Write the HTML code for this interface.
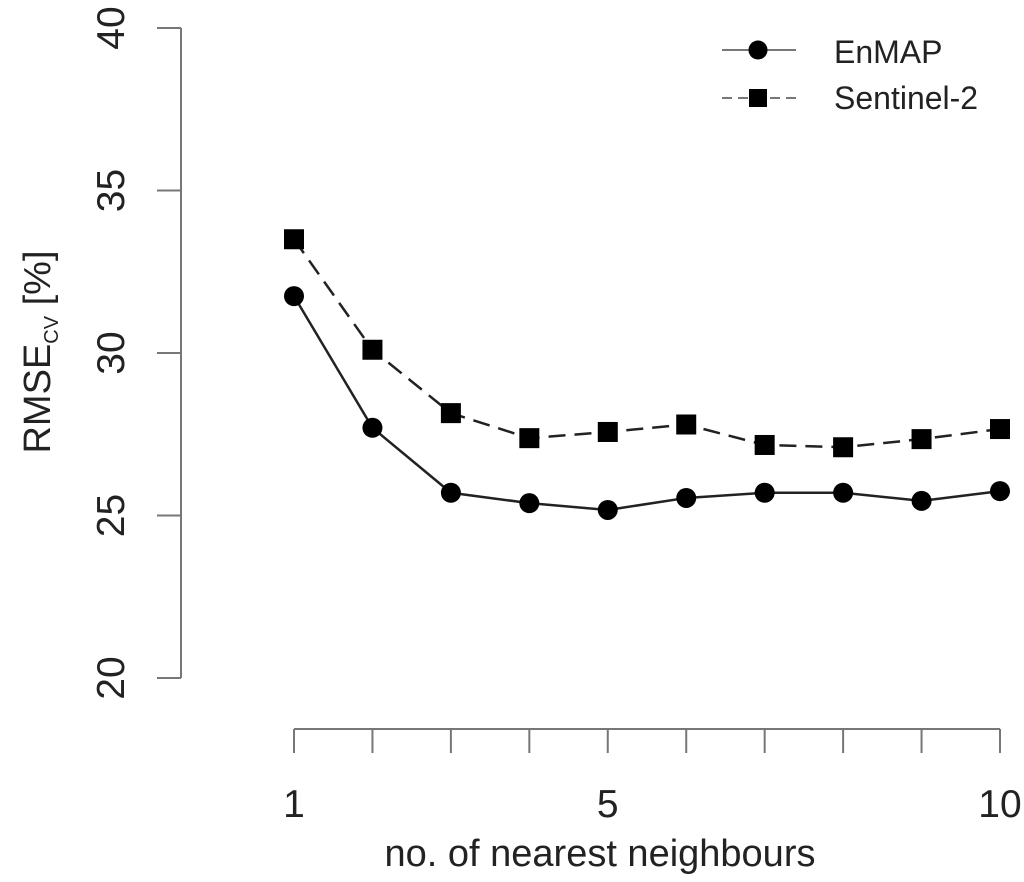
<!DOCTYPE html>
<html><head><meta charset="utf-8"><style>
html,body{margin:0;padding:0;background:#fff;}
svg{display:block;font-family:"Liberation Sans",Arial,sans-serif;}
</style></head><body>
<svg id="chart" width="1024" height="882" viewBox="0 0 1024 882" xmlns="http://www.w3.org/2000/svg">
<g id="axes"></g>
<g id="series"></g>
<g id="legend">
  <line x1="722" y1="50" x2="796" y2="50" stroke="#777" stroke-width="2"/>
  <circle cx="758" cy="50" r="9.5" fill="#000"/>
  <text x="834" y="63" font-size="32" fill="#222">EnMAP</text>
  <line x1="722" y1="98" x2="796" y2="98" stroke="#777" stroke-width="2" stroke-dasharray="10,6"/>
  <rect x="749" y="89" width="18" height="18" fill="#000"/>
  <text x="834" y="109" font-size="32" fill="#222">Sentinel-2</text>
</g>
<text x="600" y="866" font-size="38" fill="#222" text-anchor="middle">no. of nearest neighbours</text>
<text transform="translate(50,352) rotate(-90)" font-size="38" fill="#222" text-anchor="middle">RMSE<tspan font-size="20" dy="8">CV</tspan><tspan dy="-8"> [%]</tspan></text>
</svg>
<script>
const xValues = [1,2,3,4,5,6,7,8,9,10];
const enmapValues = [31.75,27.7,25.7,25.38,25.17,25.54,25.7,25.7,25.45,25.75];
const sentinelValues = [33.5,30.1,28.15,27.38,27.57,27.8,27.17,27.1,27.35,27.66];
const yTicks = [20,25,30,35,40];
const xTickLabels = ["1","","","","5","","","","","10"];

const NS = "http://www.w3.org/2000/svg";
function xs(v){ return 294 + (v-1)*(1000-294)/9; }
function ys(v){ return 678 - (v-20)*(678-28)/20; }
function mk(tag, attrs, parent){ const e=document.createElementNS(NS,tag); for(const k in attrs) e.setAttribute(k,attrs[k]); parent.appendChild(e); return e; }
const axes=document.getElementById('axes'), series=document.getElementById('series');

let el = mk('line',{x1:181,y1:ys(20),x2:181,y2:ys(40),stroke:'#777','stroke-width':2},axes);


yTicks.forEach(t=>{
  const y=ys(t);
  const tk=mk('line',{x1:157,y1:y,x2:181,y2:y,stroke:'#777','stroke-width':2},axes);
  
  
  const tx=mk('text',{transform:`translate(124,${y}) rotate(-90)`,'font-size':39,fill:'#222','text-anchor':'middle'},axes);
  tx.textContent=t;
  
  
});
el = mk('line',{x1:xs(1),y1:729,x2:xs(10),y2:729,stroke:'#777','stroke-width':2},axes);


xValues.forEach((v,i)=>{
  const x=xs(v);
  const tk=mk('line',{x1:x,y1:729,x2:x,y2:753,stroke:'#777','stroke-width':2},axes);
  
  
  if(xTickLabels[i]){
    const tx=mk('text',{x:x,y:817,'font-size':39,fill:'#222','text-anchor':'middle'},axes);
    tx.textContent=xTickLabels[i];
    
    
  }
});

const pe=xValues.map((v,i)=>xs(v)+','+ys(enmapValues[i])).join(' ');
el=mk('polyline',{points:pe,fill:'none',stroke:'#222','stroke-width':2.5},series);


const ps=xValues.map((v,i)=>xs(v)+','+ys(sentinelValues[i])).join(' ');
el=mk('polyline',{points:ps,fill:'none',stroke:'#222','stroke-width':2.5,'stroke-dasharray':'17,9'},series);


xValues.forEach((v,i)=>{
  const c=mk('circle',{cx:xs(v),cy:ys(enmapValues[i]),r:10,fill:'#000'},series);
  
  
  const r=mk('rect',{x:xs(v)-10,y:ys(sentinelValues[i])-10,width:20,height:20,fill:'#000'},series);
  
  
});
</script>
</body></html>
